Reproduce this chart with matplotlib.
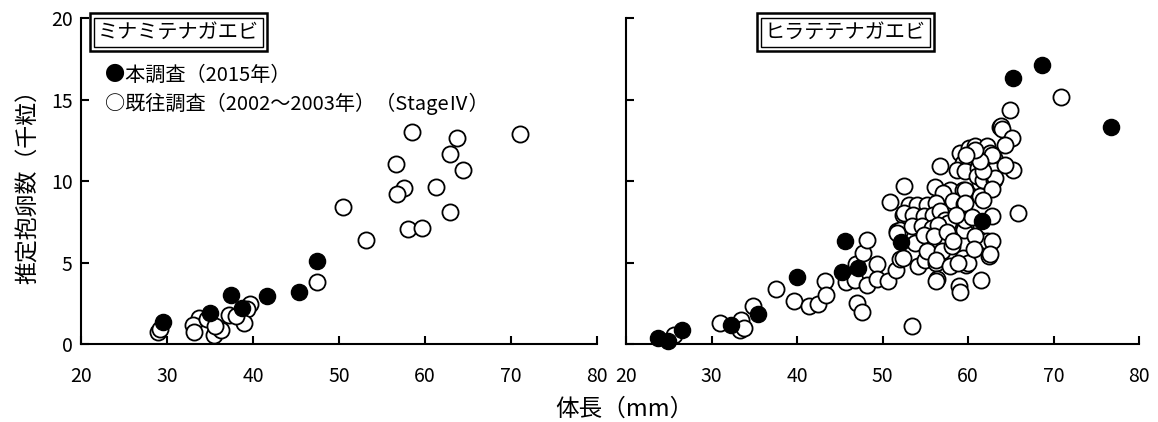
import matplotlib
matplotlib.use("Agg")
import matplotlib.pyplot as plt
import numpy as np

plt.rcParams['font.family'] = ['Noto Sans CJK JP', 'DejaVu Sans']

# ミナミテナガエビ
mina_old_x = [58.5, 63.7, 71.0, 62.9, 56.6, 64.4, 57.6, 56.7, 61.3, 50.5, 62.9, 58.0, 59.6, 53.1,
              47.4, 39.7, 39.3, 37.2, 38.9, 33.7, 33.0, 33.1, 34.7, 35.4, 36.3, 35.6, 29.0, 29.2, 38.0]
mina_old_y = [13.0, 12.66, 12.86, 11.66, 11.02, 10.65, 9.55, 9.2, 9.65, 8.38, 8.12, 7.03, 7.09, 6.38,
              3.82, 2.43, 2.15, 1.80, 1.29, 1.60, 1.14, 0.74, 1.55, 0.57, 0.84, 1.1, 0.74, 0.9, 1.7]
mina_new_x = [29.5, 35.0, 37.4, 38.7, 41.6, 45.3, 47.4]
mina_new_y = [1.33, 1.88, 2.98, 2.21, 2.92, 3.21, 5.11]

# ヒラテテナガエビ
hira_new_x = [23.7, 24.9, 26.6, 32.3, 35.4, 40.0, 45.6, 45.3, 47.1, 52.2, 61.6, 65.3, 68.6, 76.7]
hira_new_y = [0.37, 0.16, 0.88, 1.18, 1.86, 4.13, 6.34, 4.41, 4.66, 6.26, 7.56, 16.32, 17.14, 13.31]
hira_old_x = [25.6, 31.0, 33.5, 33.3, 33.8, 34.9, 37.5, 39.6, 41.4, 42.4, 43.3, 43.4, 45.7, 46.8,
              46.9, 47.7, 48.2, 48.2, 49.4, 49.4, 50.7, 51.6, 52.1, 47.0, 47.6, 53.5, 50.9, 52.4,
              51.7, 54.1, 55.0, 56.3, 56.4, 56.2, 59.0, 59.1, 59.8,
              52.5, 56.1, 57.9, 59.4, 61.4, 61.4, 57.1, 53.1, 54.0, 55.2, 56.3, 58.3, 59.5, 52.5,
              53.6, 54.8, 55.9, 56.7, 57.3, 57.7, 59.6, 59.5, 52.0, 53.4, 54.6, 55.8, 56.5, 53.8,
              54.8, 56.0, 55.2, 56.9, 58.1, 52.4, 56.3, 59.4, 60.0, 61.4, 62.2, 62.4, 51.7,
              56.7, 63.7, 59.1, 60.1, 60.8, 62.2, 62.6, 63.0, 61.3, 60.2, 59.4, 58.7, 59.6, 61.2,
              62.2, 63.0, 61.0, 61.8, 63.0, 64.9, 63.9, 64.0, 65.2, 64.3, 65.3, 64.3, 62.8, 63.2,
              62.8, 61.8, 61.8, 61.4, 60.8, 59.8, 59.6, 59.6, 62.8, 59.6, 65.9, 62.8, 70.9, 61.5,
              62.6, 60.5, 58.6, 57.5, 58.2, 60.8, 60.7, 57.9, 58.8]
hira_old_y = [0.55, 1.29, 1.49, 0.88, 0.98, 2.35, 3.37, 2.61, 2.35, 2.47, 3.84, 3.02, 3.78, 3.90,
              4.93, 5.58, 6.36, 3.64, 4.93, 4.0, 3.86, 4.56, 5.21, 2.49, 1.96, 1.08, 8.71, 7.93,
              6.91, 4.76, 5.17, 4.97, 3.99, 3.85, 3.53, 3.17, 4.87,
              9.71, 9.63, 9.47, 9.42, 9.88, 9.06, 9.26, 8.55, 8.55, 8.55, 8.65, 8.75, 8.61, 8.04,
              7.93, 7.83, 7.93, 8.13, 7.63, 7.42, 7.21, 6.97, 7.01, 7.21, 7.21, 7.12, 7.32, 6.2,
              6.71, 6.6, 5.68, 5.68, 5.99, 5.28, 5.17, 5.28, 4.97, 6.4, 6.3, 5.37, 6.81,
              10.94, 13.3, 11.72, 12.02, 12.12, 12.12, 11.72, 11.41, 11.31, 11.41, 11.1, 10.69, 10.59, 10.8,
              10.9, 10.69, 10.28, 10.08, 10.08, 14.33, 13.39, 13.19, 12.64, 12.23, 10.69, 11.0, 11.61, 10.18,
              9.51, 8.85, 10.59, 11.2, 11.92, 11.61, 9.47, 8.65, 7.83, 7.63, 8.04, 6.3, 15.17, 3.9,
              5.5, 7.8, 7.9, 6.9, 6.3, 6.6, 5.8, 4.8, 5.0]

titles = ['ミナミテナガエビ', 'ヒラテテナガエビ']
legend_new = '●本調査（2015年）'
legend_old = '○既往調査（2002～2003年）（StageⅣ）'

fig = plt.figure(figsize=(11.58, 4.22), dpi=100)
ax1 = fig.add_axes([0.070, 0.1848, 0.4456, 0.7725])
ax2 = fig.add_axes([0.5406, 0.1848, 0.443, 0.7725])

ms = 135
for ax, ox, oy, nx, ny in [(ax1, mina_old_x, mina_old_y, mina_new_x, mina_new_y),
                           (ax2, hira_old_x, hira_old_y, hira_new_x, hira_new_y)]:
    ax.scatter(ox, oy, s=ms, facecolors='white', edgecolors='black', linewidths=1.3, zorder=3, clip_on=False)
    ax.scatter(nx, ny, s=ms, facecolors='black', edgecolors='black', linewidths=1.0, zorder=4, clip_on=False)
    ax.set_xlim(20, 80)
    ax.set_ylim(0, 20)
    ax.set_xticks(np.arange(20, 81, 10))
    ax.set_yticks(np.arange(0, 21, 5))
    ax.spines['top'].set_visible(False)
    ax.spines['right'].set_visible(False)
    ax.spines['left'].set_linewidth(1.5)
    ax.spines['bottom'].set_linewidth(1.5)
    ax.tick_params(direction='in', length=6, width=1.5, labelsize=14, pad=6)
    ax.tick_params(axis='x', pad=16)

ax2.tick_params(labelleft=False)
ax1.set_ylabel('推定抱卵数（千粒）', fontsize=16.5, labelpad=8)
fig.text(0.539, 0.03, '体長（mm）', fontsize=17, ha='center', va='center')

for ax, t, xf in [(ax1, titles[0], 0.188), (ax2, titles[1], 0.427)]:
    ax.text(xf, 0.957, t, transform=ax.transAxes, ha='center', va='center', fontsize=14.5, zorder=6,
            bbox=dict(boxstyle='square,pad=0.2', fc='white', ec='black', lw=1.0))
    ax.text(xf, 0.957, t, transform=ax.transAxes, ha='center', va='center', fontsize=14.5, color='none',
            zorder=5, bbox=dict(boxstyle='square,pad=0.4', fc='white', ec='black', lw=1.8))

ax1.text(0.0465, 0.825, legend_new, transform=ax1.transAxes, ha='left', va='center', fontsize=14.5)
ax1.text(0.0465, 0.736, legend_old, transform=ax1.transAxes, ha='left', va='center', fontsize=14.5)

fig.savefig('out.png', dpi=100)
